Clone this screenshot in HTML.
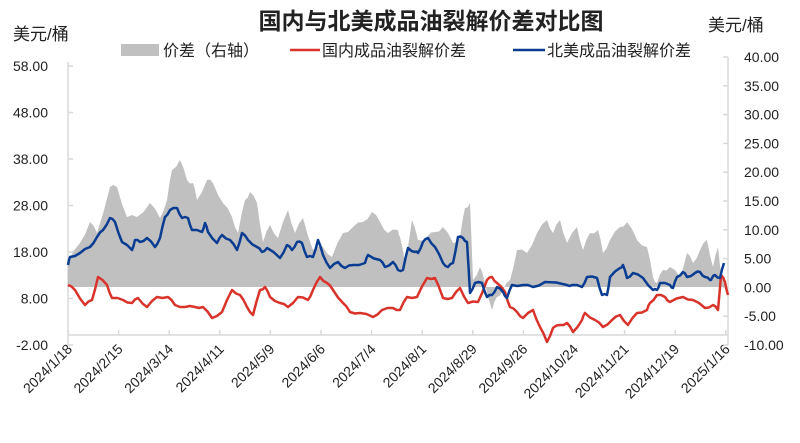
<!DOCTYPE html>
<html><head><meta charset="utf-8"><style>
body{margin:0;background:#fff}
svg text{font-family:"Liberation Sans","Noto Sans CJK SC",sans-serif;fill:#222}
</style></head><body>
<svg width="800" height="438" xmlns="http://www.w3.org/2000/svg">
<text x="431" y="29" text-anchor="middle" font-size="23" font-weight="bold">国内与北美成品油裂解价差对比图</text>
<text x="13" y="40" font-size="17">美元/桶</text>
<text x="708" y="31" font-size="17">美元/桶</text>
<rect x="121" y="44" width="38" height="12" fill="#c0c0c0"/>
<text x="163" y="56" font-size="16">价差（右轴）</text>
<line x1="290" y1="50" x2="320" y2="50" stroke="#d9342b" stroke-width="2.5"/>
<text x="322" y="56" font-size="16">国内成品油裂解价差</text>
<line x1="513" y1="50" x2="545" y2="50" stroke="#0a3d91" stroke-width="2.5"/>
<text x="547" y="56" font-size="16">北美成品油裂解价差</text>
<g stroke="#d9d9d9" stroke-width="1.5" fill="none">
<line x1="68" y1="62" x2="68" y2="345"/>
<line x1="728" y1="57" x2="728" y2="345"/>
<line x1="68" y1="335" x2="728" y2="335"/>
</g>
<g id="lt" font-size="14" text-anchor="end"></g>
<g id="rt" font-size="14"></g>
<g id="xt" font-size="14"></g>
<g id="ticks" stroke="#d9d9d9" stroke-width="1.5"></g>
<polygon id="area" fill="#c0c0c0"/>
<polyline id="red" fill="none" stroke="#d9342b" stroke-width="2.5" stroke-linejoin="round"/>
<polyline id="blue" fill="none" stroke="#0a3d91" stroke-width="2.5" stroke-linejoin="round"/>
</svg>
<script>
var NS="http://www.w3.org/2000/svg";
function el(p,t,a,txt){var e=document.createElementNS(NS,t);for(var k in a)e.setAttribute(k,a[k]);if(txt)e.textContent=txt;document.getElementById(p).appendChild(e);}
var lv=["58.00","48.00","38.00","28.00","18.00","8.00","-2.00"];
for(var i=0;i<7;i++){var y=66+i*46.5;el("lt","text",{x:48,y:y+5},lv[i]);el("ticks","line",{x1:68,y1:y,x2:73,y2:y});}
var rv=["40.00","35.00","30.00","25.00","20.00","15.00","10.00","5.00","0.00","-5.00","-10.00"];
for(var i=0;i<11;i++){var y=57+i*28.8;el("rt","text",{x:744,y:y+5},rv[i]);el("ticks","line",{x1:723,y1:y,x2:728,y2:y});}
var xl=["2024/1/18","2024/2/15","2024/3/14","2024/4/11","2024/5/9","2024/6/6","2024/7/4","2024/8/1","2024/8/29","2024/9/26","2024/10/24","2024/11/21","2024/12/19","2025/1/16"];
for(var i=0;i<14;i++){var x=68+i*50.6;el("ticks","line",{x1:x,y1:330,x2:x,y2:335});el("xt","text",{x:0,y:0,"text-anchor":"end",transform:"translate("+(x+5)+",350) rotate(-45)"},xl[i]);}
var blue=[68,265,70,257,80,253,90,247,97,237,103,230,110,218,115,222,122,242,132,250,135,240,140,242,147,238,155,247,160,238,165,217,170,210,177,208,182,218,188,218,192,230,202,232,205,223,208,232,217,243,222,235,230,240,237,250,242,233,248,240,257,247,262,252,267,248,280,258,287,245,292,250,297,242,302,243,307,257,313,257,318,240,323,255,330,268,338,262,345,268,353,265,365,263,368,255,380,260,385,267,393,262,398,270,403,270,408,248,415,252,418,253,423,242,428,238,435,247,443,263,448,267,453,263,458,237,463,238,467,242,470,293,475,283,482,283,487,297,492,295,497,287,503,292,507,298,512,285,523,285,533,287,545,282,567,285,572,285,582,287,587,277,597,278,602,295,607,295,610,277,620,268,623,265,627,278,633,273,643,278,653,290,657,290,660,283,670,285,673,288,677,277,683,272,687,277,695,273,700,272,705,277,710,280,712,278,715,275,720,278,724,263];
var red=[68,285,75,290,85,305,92,300,98,277,107,285,112,298,123,300,132,303,138,298,147,307,157,297,168,297,175,305,185,307,195,307,203,307,212,318,222,312,232,290,240,295,247,307,253,315,260,290,265,287,270,297,280,303,288,307,298,297,308,300,313,290,320,277,327,283,333,290,343,303,350,312,360,313,373,317,382,310,393,308,400,310,407,297,417,297,427,278,435,278,443,298,452,298,460,288,468,303,478,302,487,280,492,277,497,283,505,292,510,307,517,312,523,318,533,310,540,327,547,342,553,328,560,325,567,323,573,332,582,320,585,313,595,320,603,327,612,320,620,315,628,325,637,313,647,310,650,303,657,295,665,297,670,302,683,297,693,300,705,308,713,305,718,310,721,275,725,282,728,295];
var area=[68,262,80,243,90,222,97,233,110,187,117,187,127,217,137,217,150,203,160,218,167,200,172,170,180,160,187,180,193,183,197,200,207,180,213,183,223,203,232,217,238,233,245,200,250,192,257,203,263,242,270,225,278,238,288,210,295,233,303,218,313,250,323,247,332,257,343,233,353,227,363,222,372,212,380,222,388,233,398,230,400,237,405,263,412,220,418,240,427,237,435,232,443,227,453,243,460,237,465,208,470,203,473,280,480,267,485,283,492,310,497,297,503,290,510,280,517,250,527,253,537,233,547,220,553,233,560,220,567,243,577,227,583,250,590,233,598,230,603,253,610,240,620,227,627,222,637,240,647,247,653,277,657,283,663,270,670,267,680,277,687,253,693,263,700,250,707,240,713,267,718,247,722,280,725,277];
function jit(a,amp){var o=[];for(var i=0;i<a.length;i+=2){o.push(a[i]);o.push(a[i+1]);if(i+2<a.length){var mx=(a[i]+a[i+2])/2,my=(a[i+1]+a[i+3])/2+((i/2)%2?amp:-amp);o.push(mx);o.push(my);}}return o;}
function s(a){var r=[];for(var i=0;i<a.length;i+=2)r.push(a[i].toFixed(1)+","+a[i+1].toFixed(1));return r.join(" ");}
document.getElementById("blue").setAttribute("points",s(jit(blue,1)));
document.getElementById("red").setAttribute("points",s(jit(red,1)));
var ar=jit(area,2);document.getElementById("area").setAttribute("points","68,287 "+s(ar)+" 725,287");
</script>
</body></html>
